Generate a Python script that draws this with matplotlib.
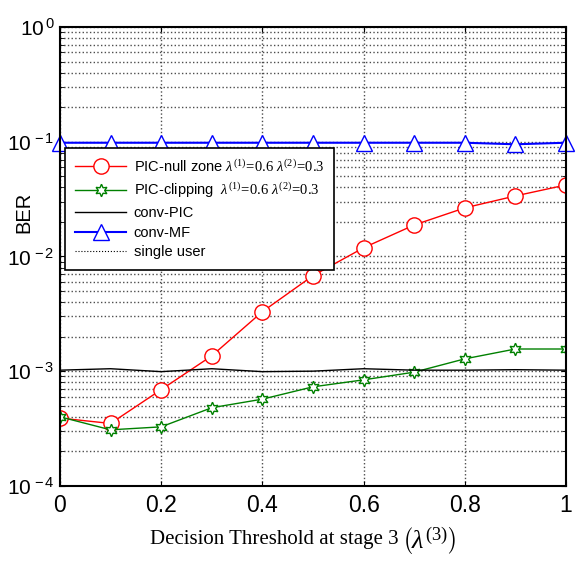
import matplotlib

matplotlib.use("Agg")

import matplotlib.pyplot as plt
import numpy as np
from matplotlib.ticker import FixedLocator, FuncFormatter, LogLocator, NullFormatter

plt.rcParams["font.family"] = ["Liberation Sans", "DejaVu Sans"]
plt.rcParams["mathtext.fontset"] = "custom"
plt.rcParams["mathtext.rm"] = "Liberation Serif"
plt.rcParams["mathtext.it"] = "Liberation Serif:italic"
plt.rcParams["mathtext.sf"] = "Liberation Sans"

# data
thresholds = [0.0, 0.1, 0.2, 0.3, 0.4, 0.5, 0.6, 0.7, 0.8, 0.9, 1.0]
ber_null_zone = [3.9e-4, 3.5e-4, 6.9e-4, 1.36e-3, 3.3e-3, 6.8e-3,
                 1.19e-2, 1.88e-2, 2.65e-2, 3.37e-2, 4.2e-2]
ber_clipping = [4.0e-4, 3.08e-4, 3.27e-4, 4.8e-4, 5.7e-4, 7.3e-4,
                8.4e-4, 9.8e-4, 1.28e-3, 1.56e-3, 1.56e-3]
ber_conv_pic = [1.02e-3, 1.05e-3, 0.99e-3, 1.05e-3, 0.99e-3, 1.0e-3,
                1.05e-3, 1.02e-3, 1.02e-3, 1.03e-3, 1.02e-3]
ber_conv_mf = [0.098, 0.098, 0.098, 0.098, 0.098, 0.098,
               0.098, 0.098, 0.098, 0.095, 0.098]
ber_single_user = [5e-5] * len(thresholds)  # below the visible range

fig = plt.figure(figsize=(5.82, 5.63), dpi=100)
ax = fig.add_axes([0.103, 0.137, 0.8695, 0.815])

lam = r"$\lambda^{(1)}\!=\!0.6\ \lambda^{(2)}\!=\!0.3$"
ax.plot(thresholds, ber_null_zone, color="red", lw=1, marker="o", ms=11,
        mfc="white", mec="red", mew=1, label="PIC-null zone " + lam)
ax.plot(thresholds, ber_clipping, color="green", lw=1, marker=(6, 1, 0), ms=9,
        mfc="white", mec="green", mew=1, label="PIC-clipping  " + lam)
ax.plot(thresholds, ber_conv_pic, color="black", lw=1, label="conv-PIC")
ax.plot(thresholds, ber_conv_mf, color="blue", lw=1.5, marker="^", ms=11,
        mfc="white", mec="blue", mew=1, label="conv-MF", clip_on=False)
ax.plot(thresholds, ber_single_user, color="black", lw=0.8, ls=":",
        label="single user")

ax.set_yscale("log")
ax.set_ylim(1e-4, 1)
ax.set_xlim(0, 1)
ax.xaxis.set_major_locator(FixedLocator([0, 0.2, 0.4, 0.6, 0.8, 1.0]))
ax.set_xticklabels(["0", "0.2", "0.4", "0.6", "0.8", "1"])
ax.yaxis.set_major_formatter(
    FuncFormatter(lambda v, p: r"$\mathsf{10^{\,%d}}$" % round(np.log10(v))))
ax.yaxis.set_minor_locator(LogLocator(base=10, subs=range(2, 10)))
ax.yaxis.set_minor_formatter(NullFormatter())

ax.tick_params(which="both", direction="in", top=True, right=True)
ax.tick_params(axis="x", labelsize=16.5, pad=6)
ax.tick_params(axis="y", labelsize=15, pad=4)
ax.tick_params(axis="y", which="minor", length=3)
ax.grid(True, which="both", axis="y", ls=":", color="0.3", lw=1)
ax.grid(True, which="major", axis="x", ls=":", color="0.3", lw=1)
for s in ax.spines.values():
    s.set_linewidth(1.5)

ax.set_ylabel("BER", fontsize=14.5)
ax.yaxis.set_label_coords(-0.053, 0.595)

# x label: serif text plus a larger math part with tall brackets
xlab = ax.set_xlabel("Decision Threshold at stage 3", fontsize=15,
                     family="Liberation Serif")
ax.xaxis.set_label_coords(0.423, -0.096)
ax.annotate(r"$\left(\lambda^{(3)}_{\ }\right)$", xy=(1, 0.35), xycoords=xlab,
            xytext=(3, 0), textcoords="offset points", ha="left", va="center",
            fontsize=19, annotation_clip=False)

leg = ax.legend(loc="upper left", bbox_to_anchor=(0.01, 0.737), fontsize=10.5,
                handlelength=3.5, handletextpad=0.5, framealpha=1, fancybox=False,
                edgecolor="black", borderaxespad=0, labelspacing=0.4,
                borderpad=0.7)
leg.get_frame().set_linewidth(1.2)

fig.savefig("out.png", dpi=100)
